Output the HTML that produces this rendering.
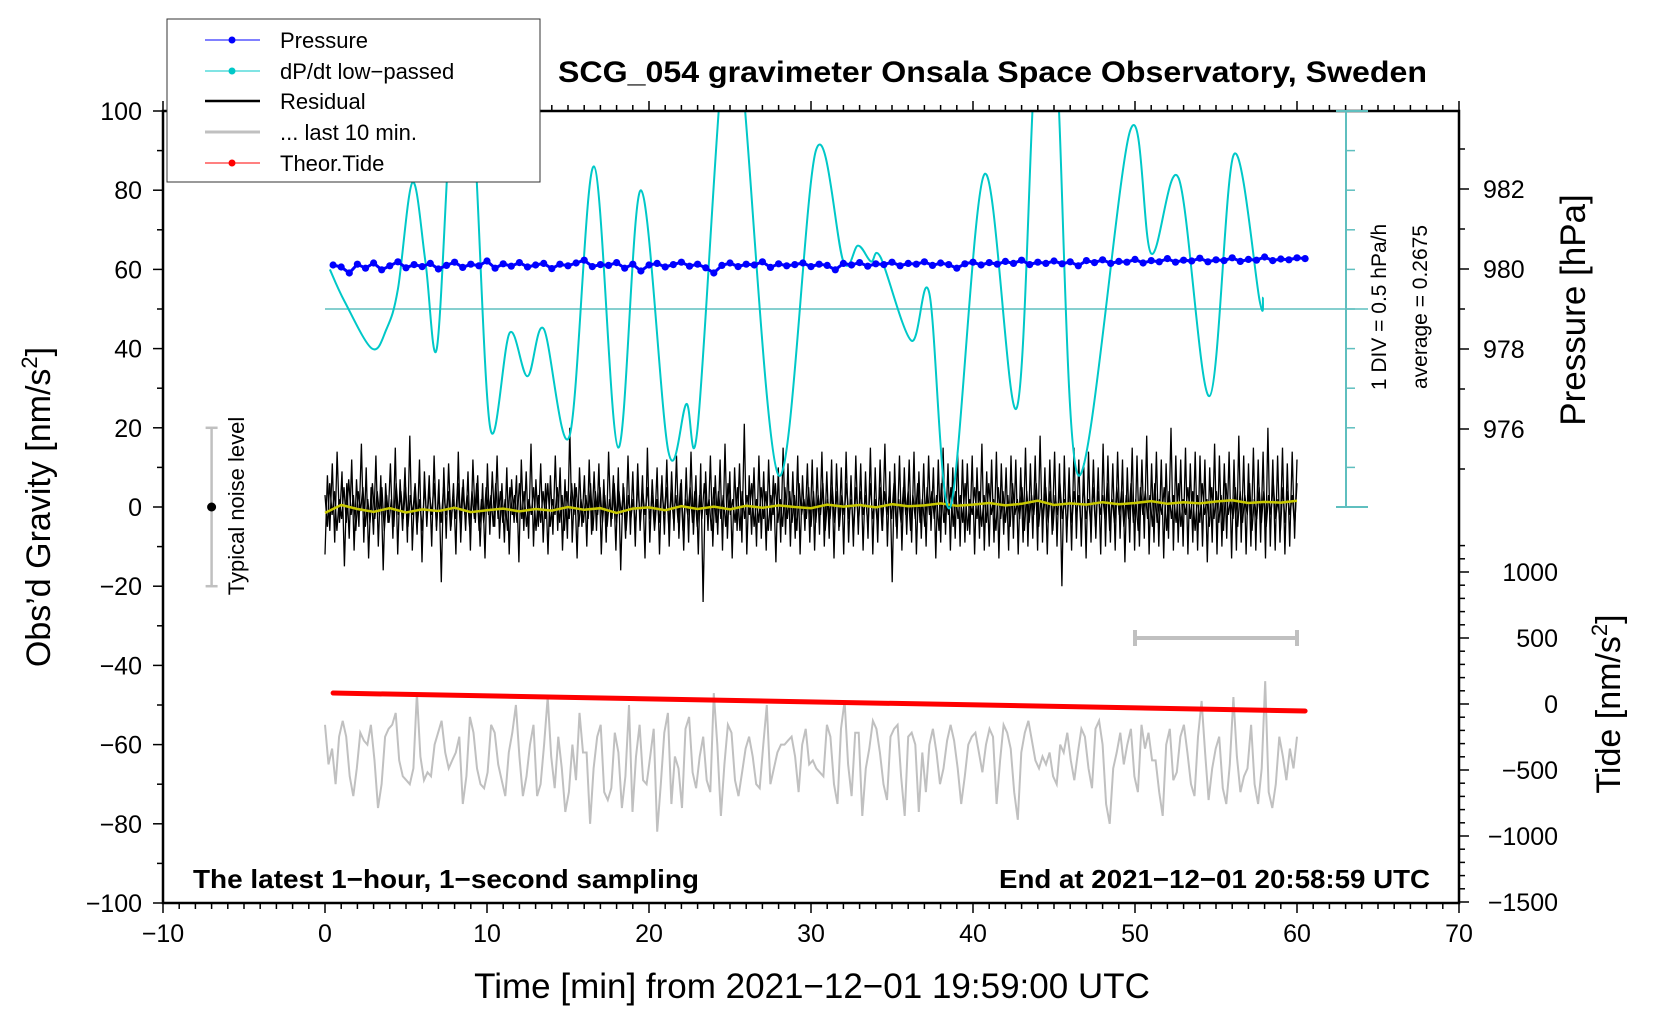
<!DOCTYPE html>
<html><head><meta charset="utf-8">
<style>
html,body{margin:0;padding:0;background:#fff;}
svg{display:block;font-family:"Liberation Sans",sans-serif;}
</style></head>
<body>
<svg id="chart" width="1660" height="1020" viewBox="0 0 1660 1020" xmlns="http://www.w3.org/2000/svg">
<defs><clipPath id="plotclip"><rect x="163" y="111" width="1296" height="792"/></clipPath></defs>
<rect x="0" y="0" width="1660" height="1020" fill="#fff"/>
<g id="ticks"></g>
<g id="marks" clip-path="url(#plotclip)"></g>
<rect x="163" y="111" width="1296" height="792" fill="none" stroke="#000" stroke-width="2.5"/>
<text x="558" y="82" font-size="30" font-weight="bold" textLength="869" lengthAdjust="spacingAndGlyphs">SCG_054 gravimeter Onsala Space Observatory, Sweden</text>
<text x="812" y="998" font-size="35" text-anchor="middle">Time [min] from 2021&#8722;12&#8722;01 19:59:00 UTC</text>
<text transform="translate(50,507) rotate(-90)" font-size="34" text-anchor="middle">Obs’d Gravity [nm/s<tspan font-size="22" dy="-13">2</tspan><tspan dy="13">]</tspan></text>
<text transform="translate(1585,310) rotate(-90)" font-size="35" text-anchor="middle">Pressure [hPa]</text>
<text transform="translate(1620,704) rotate(-90)" font-size="34" text-anchor="middle">Tide [nm/s<tspan font-size="22" dy="-13">2</tspan><tspan dy="13">]</tspan></text>
<text transform="translate(1386,307) rotate(-90)" font-size="21" text-anchor="middle">1 DIV = 0.5 hPa/h</text>
<text transform="translate(1427,307) rotate(-90)" font-size="21" text-anchor="middle">average = 0.2675</text>
<text transform="translate(244,506) rotate(-90)" font-size="22" text-anchor="middle">Typical noise level</text>
<text x="193" y="888" font-size="26" font-weight="bold" textLength="506" lengthAdjust="spacingAndGlyphs">The latest 1&#8722;hour, 1&#8722;second sampling</text>
<text x="999" y="888" font-size="26" font-weight="bold" textLength="431" lengthAdjust="spacingAndGlyphs">End at 2021&#8722;12&#8722;01 20:58:59 UTC</text>
<g>
<rect x="167" y="19" width="373" height="163" fill="#fff" stroke="#333" stroke-width="1"/>
<g><line x1="205" y1="40" x2="260" y2="40" stroke="#0000ff" stroke-width="1"/><circle cx="232" cy="40" r="3.5" fill="#0000ff"/><text x="280" y="48" font-size="22">Pressure</text></g>
<g><line x1="205" y1="71" x2="260" y2="71" stroke="#00c8c8" stroke-width="1"/><circle cx="232" cy="71" r="3.5" fill="#00c8c8"/><text x="280" y="79" font-size="22">dP/dt low&#8722;passed</text></g>
<g><line x1="205" y1="101" x2="260" y2="101" stroke="#000" stroke-width="2.5"/><text x="280" y="109" font-size="22">Residual</text></g>
<g><line x1="205" y1="132" x2="260" y2="132" stroke="#c0c0c0" stroke-width="3"/><text x="280" y="140" font-size="22">... last 10 min.</text></g>
<g><line x1="205" y1="163" x2="260" y2="163" stroke="#ff0000" stroke-width="1"/><circle cx="232" cy="163" r="3.5" fill="#ff0000"/><text x="280" y="171" font-size="22">Theor.Tide</text></g>
</g>
</svg>
<script>
// ---- data ----
const xTickLabels = [-10,0,10,20,30,40,50,60,70];
const gravityTickLabels = [100,80,60,40,20,0,-20,-40,-60,-80,-100];
const pressureTickLabels = [976,978,980,982];
const tideTickLabels = [1000,500,0,-500,-1000,-1500];
const dpdtTimes = [0.3,1.2,2.9,3.8,4.5,5.4,6.2,6.9,7.7,8.4,9.2,10.2,11.4,12.5,13.5,15.1,16.6,18.1,19.5,21.2,22.3,23.0,24.6,25.6,28,30.3,32,32.9,33.7,34.3,36.2,37.3,38.6,40.7,42.7,43.9,45.1,46.5,49.7,51,52.7,54.6,56.1,57.7,57.9];
const dpdtValues = [60,52,40,45,55,82,62,40,95,125,95,20,44,33,45,18,86,15,80,14,26,20,115,115,8,90,62,66,62,63,42,54,0,84,25,115,115,8,95,64,83,28,89,52,53];
const dpdtCenter = 50;
const pressureValues = [980.10,980.05,979.90,980.12,980.02,980.15,979.98,980.08,980.18,980.03,980.11,980.06,980.14,980.00,980.09,980.17,980.04,980.12,980.08,980.20,980.02,980.13,980.07,980.16,980.05,980.10,980.14,980.01,980.12,980.08,980.15,980.22,980.06,980.11,980.09,980.16,980.02,980.12,979.95,980.10,980.14,980.05,980.11,980.17,980.07,980.12,980.03,979.90,980.09,980.15,980.06,980.12,980.10,980.18,980.04,980.13,980.08,980.11,980.15,980.06,980.12,980.09,979.98,980.14,980.10,980.16,980.07,980.13,980.11,980.17,980.08,980.14,980.12,980.18,980.09,980.15,980.11,980.02,980.13,980.17,980.10,980.16,980.12,980.19,980.14,980.22,980.11,980.17,980.14,980.20,980.13,980.18,980.08,980.21,980.16,980.23,980.14,980.19,980.17,980.24,980.15,980.21,980.18,980.26,980.17,980.22,980.20,980.27,980.18,980.23,980.21,980.28,980.19,980.24,980.22,980.30,980.21,980.25,980.23,980.28,980.26];
const residualValues = [-12,8,-6,11,-9,14,-4,9,-15,6,-8,12,-11,7,-5,16,-9,10,-13,5,-7,13,-10,8,-16,6,-4,11,-8,15,-12,7,-6,10,-9,18,-11,5,-7,12,-14,9,-5,8,-10,13,-6,7,-19,10,-8,11,-5,6,-12,14,-9,7,-6,9,-11,12,-4,8,-10,6,-13,11,-7,9,-5,13,-8,6,-9,10,-12,7,-4,8,-14,12,-6,9,-8,16,-10,7,-5,11,-9,6,-12,8,-7,13,-6,10,-11,7,-8,20,-9,6,-13,10,-5,8,-10,12,-7,9,-6,11,-12,7,-9,14,-5,8,-11,10,-16,6,-8,13,-7,9,-10,11,-6,8,-13,15,-9,7,-5,10,-12,8,-7,12,-10,9,-6,13,-8,7,-11,10,-9,14,-7,8,-12,11,-24,9,-6,13,-10,8,-7,12,-11,16,-8,9,-13,10,-6,11,-9,21,-12,8,-7,10,-10,13,-8,9,-11,12,-6,8,-14,10,-9,15,-7,11,-10,9,-8,13,-12,8,-6,11,-9,12,-11,10,-7,14,-10,9,-8,12,-13,11,-6,10,-12,14,-9,8,-10,13,-7,11,-11,9,-8,15,-12,10,-9,12,-6,16,-10,9,-19,11,-8,13,-11,10,-7,12,-9,14,-12,9,-8,11,-10,13,-6,10,-13,12,-9,15,-7,11,-11,10,-8,14,-10,12,-9,11,-7,13,-12,10,-8,16,-11,9,-10,12,-9,14,-13,11,-7,10,-11,13,-8,12,-12,10,-9,15,-10,11,-8,13,-11,18,-9,10,-12,12,-7,14,-10,11,-20,13,-9,10,-11,15,-8,12,-10,11,-13,14,-9,12,-8,10,-12,16,-10,13,-9,11,-11,14,-8,12,-14,10,-9,15,-11,13,-10,12,-8,18,-12,11,-9,14,-10,12,-13,11,-8,20,-11,13,-9,12,-10,15,-12,11,-9,14,-11,13,-10,12,-14,10,-9,16,-12,13,-10,11,-8,14,-13,12,-11,18,-9,13,-12,11,-10,15,-11,12,-9,14,-13,20,-10,12,-11,13,-9,15,-12,11,-10,14,-8,12];
const residualFineValues = [3,-5,6,-2,4,-6,2,-3,5,-4,7,-2,3,-6,4,-1,5,-5,2,-4,6,-3,4,-2,5,-6,3,-4,2,-5,6,-2,4,-3,5,-5,3,-2,6,-4,2,-6,5,-3,4,-2,6,-5,3,-4,5,-2,4,-6,2,-3,6,-4,5,-2,3,-5,4,-3,6,-6,2,-4,5,-2,3,-5,6,-3,4,-4,2,-6,5,-2,3,-4,6,-3,4,-5,2,-2,5,-6,3,-4,4,-3,6,-5,2,-2,5,-4,3,-6,4,-3,6,-2,5,-5,2,-4,3,-3,6,-6,4,-2,5,-4,3,-5,2,-3,6,-4,4,-2,5,-6,3,-3,2,-5,6,-4,4,-2,5,-3,3,-6,2,-4,6,-2,5,-5,4,-3,3,-4,6,-6,2,-2,5,-4,4,-5,3,-3,6,-2,2,-6,5,-4,4,-3,3,-5,6,-2,2,-4,5,-6,4,-3,3,-2,6,-5,2,-4,5,-3,4,-6,3,-2,6,-4,2,-5,5,-3,4,-4,3,-6,6,-2,2,-3,5,-5,4,-4,3,-2,6,-6,2,-3,5,-4,4,-5,3,-2,6,-3,2,-6,5,-4,4,-2,3,-5,6,-3,2,-4,5,-6,4,-2,3,-3,6,-5,2,-4,5,-2,4,-6,3,-3,6,-4,2,-5,5,-2,4,-3,3,-6,6,-4,2,-2,5,-5,4,-3,3,-4,6,-6,2,-2,5,-3,4,-5,3,-4,6,-2,2,-6,5,-3,4,-4,3,-5,6,-2,2,-3,5,-6,4,-4,3,-2,6,-5,2,-3,5,-4,4,-6,3,-2,6,-3,2,-5,5,-4,4,-2,3,-6,6,-3,2,-4,5,-5,4,-2,3,-3,6,-6,2,-4,5,-2,4,-5,3,-3,6,-4,2,-6,5,-2,4,-3,3,-5,6,-4,2,-2,5,-6,4,-3,3,-4,6,-5,2,-2,5,-3,4,-6,3,-4,6,-2,2,-5,5,-3,4,-4,3,-6,6,-2,2,-3,5,-5,4,-4,3,-2,6,-6,2,-3,5,-4,4,-5,3,-2,6,-3,2,-6,5,-4,4,-2,3,-5,6];
const smoothValues = [-1.5,0.5,-0.5,-1.2,-0.3,-1.4,-0.6,-1.0,-0.2,-1.3,-0.8,-0.4,-1.1,-0.5,-0.9,0.0,-0.7,-0.3,-1.5,-0.4,-0.1,-0.8,0.2,-0.5,0.1,-0.6,0.3,-0.2,0.4,0.0,-0.3,0.6,0.1,0.5,-0.1,0.7,0.2,0.4,0.9,0.3,0.6,1.0,0.4,0.8,1.6,0.5,0.9,0.6,1.2,0.7,1.0,1.5,0.8,1.2,0.9,1.4,1.7,1.0,1.3,1.1,1.6];
const lastTenValues = [-55,-65,-61,-70,-58,-54,-58,-68,-73,-66,-57,-59,-60,-55,-64,-76,-70,-58,-56,-55,-52,-64,-68,-69,-70,-66,-47,-63,-69,-67,-68,-60,-57,-54,-62,-66,-64,-62,-58,-75,-68,-53,-57,-66,-70,-71,-67,-55,-57,-65,-69,-73,-62,-57,-50,-63,-73,-68,-60,-55,-73,-70,-60,-48,-63,-71,-58,-66,-77,-72,-60,-69,-52,-62,-62,-80,-66,-58,-55,-72,-74,-71,-57,-62,-76,-68,-50,-77,-63,-55,-69,-70,-63,-56,-82,-70,-57,-52,-75,-63,-66,-76,-56,-53,-67,-71,-63,-58,-69,-72,-47,-60,-78,-65,-55,-57,-69,-73,-67,-61,-58,-63,-70,-71,-60,-50,-70,-66,-62,-60,-60,-59,-58,-63,-72,-60,-56,-65,-64,-66,-67,-68,-55,-58,-70,-75,-56,-49,-65,-73,-57,-57,-78,-66,-61,-54,-56,-62,-70,-74,-58,-56,-55,-68,-78,-58,-57,-60,-77,-62,-72,-60,-56,-62,-70,-66,-59,-55,-59,-66,-75,-68,-60,-58,-57,-62,-67,-60,-56,-58,-75,-64,-55,-57,-61,-72,-79,-62,-57,-54,-59,-64,-66,-63,-65,-62,-68,-70,-60,-62,-57,-64,-69,-62,-56,-58,-66,-71,-56,-54,-60,-75,-80,-66,-62,-57,-65,-60,-56,-68,-72,-55,-61,-57,-64,-64,-72,-78,-60,-56,-69,-67,-58,-55,-62,-70,-73,-58,-49,-62,-74,-66,-61,-58,-71,-75,-65,-48,-63,-72,-68,-66,-55,-70,-75,-66,-44,-72,-76,-70,-58,-63,-69,-61,-66,-58];
const tideStart = 83, tideEnd = -53;

// ---- scales ----
const xs = t => 163 + (t + 10) * 16.2;
const yg = v => 507 - v * 3.96;
const yp = p => 269 - (p - 980) * 40;
const yt = v => 704 - v * 0.132;
const NS = 'http://www.w3.org/2000/svg';
const ticksG = document.getElementById('ticks');
const marksG = document.getElementById('marks');
const svg = document.getElementById('chart');

function mk(tag, parent, attrs){ const e = document.createElementNS(NS, tag); for (const k in attrs) e.setAttribute(k, attrs[k]); parent.appendChild(e); return e; }
function line(parent,x1,y1,x2,y2,w){ return mk('line',parent,{x1:x1,y1:y1,x2:x2,y2:y2,stroke:'#000','stroke-width':w||1.5}); }
function txt(parent,x,y,s,anchor,size){ const e = mk('text',parent,{x:x,y:y,'font-size':size||25,'text-anchor':anchor}); e.textContent = s; return e; }
const fmt = v => (v < 0 ? '\u2212' + Math.abs(v) : String(v));

for (let t = -10; t <= 70; t++) {
  const major = t % 10 === 0, L = major ? 10 : 6;
  line(ticksG, xs(t), 903, xs(t), 903 + L);
  line(ticksG, xs(t), 111, xs(t), 111 - L);
}
xTickLabels.forEach(v => {
  const e = txt(ticksG, xs(v), 942, fmt(v), 'middle');
  
  
});
for (let v = -100; v <= 100; v += 10) { line(ticksG, 163, yg(v), 163 - (v % 20 === 0 ? 10 : 6), yg(v)); }
gravityTickLabels.forEach(v => {
  const e = txt(ticksG, 142, yg(v) + 9, fmt(v), 'end');
  
  
});
for (let p = 975; p <= 983; p++) { line(ticksG, 1459, yp(p), 1459 + (p % 2 === 0 ? 10 : 6), yp(p)); }
pressureTickLabels.forEach(p => {
  const e = txt(ticksG, 1483, yp(p) + 9, String(p), 'start');
  
  
});
for (let v = -1500; v <= 1200; v += 100) { line(ticksG, 1459, yt(v), 1459 + (v % 500 === 0 ? 10 : 6), yt(v)); }
tideTickLabels.forEach(v => {
  const e = txt(ticksG, 1558, yt(v) + 9, fmt(v), 'end');
  
  
});

const cyanAxis = mk('g', svg, {});


mk('line', cyanAxis, {x1:1346,y1:111,x2:1346,y2:507,stroke:'#5fbfbf','stroke-width':2});
mk('line', cyanAxis, {x1:1336,y1:507,x2:1368,y2:507,stroke:'#5fbfbf','stroke-width':2});
mk('line', cyanAxis, {x1:1336,y1:111,x2:1368,y2:111,stroke:'#5fbfbf','stroke-width':2});
for (let v = 10; v < 100; v += 10) mk('line', cyanAxis, {x1:1346,y1:yg(v),x2:1355,y2:yg(v),stroke:'#5fbfbf','stroke-width':1.5});
const cl = mk('line', marksG, {x1:xs(0),y1:yg(dpdtCenter),x2:1368,y2:yg(dpdtCenter),stroke:'#5fbfbf','stroke-width':1.5});



function smoothPath(pts){
  let d = 'M' + pts[0][0] + ',' + pts[0][1];
  for (let i = 0; i < pts.length - 1; i++) {
    const p0 = pts[Math.max(i-1,0)], p1 = pts[i], p2 = pts[i+1], p3 = pts[Math.min(i+2,pts.length-1)];
    const c1x = p1[0] + (p2[0]-p0[0])/6, c1y = p1[1] + (p2[1]-p0[1])/6;
    const c2x = p2[0] - (p3[0]-p1[0])/6, c2y = p2[1] - (p3[1]-p1[1])/6;
    d += ' C' + c1x.toFixed(1) + ',' + c1y.toFixed(1) + ' ' + c2x.toFixed(1) + ',' + c2y.toFixed(1) + ' ' + p2[0].toFixed(1) + ',' + p2[1].toFixed(1);
  }
  return d;
}
function polyPts(vals, t0, t1, yf){
  const n = vals.length;
  return vals.map((v,i) => (xs(t0 + (t1 - t0) * i / (n - 1))).toFixed(1) + ',' + yf(v).toFixed(1)).join(' ');
}

const gray = mk('polyline', marksG, {points: polyPts(lastTenValues, 0, 60, yg), fill:'none', stroke:'#c0c0c0', 'stroke-width':2});



const res = mk('polyline', marksG, {points: polyPts(residualValues, 0, 60, yg), fill:'none', stroke:'#000', 'stroke-width':1.3});


const resF = mk('polyline', marksG, {points: polyPts(residualFineValues, 0, 60, yg), fill:'none', stroke:'#000', 'stroke-width':1.3});



const yel = mk('polyline', marksG, {points: polyPts(smoothValues, 0, 60, yg), fill:'none', stroke:'#c8c800', 'stroke-width':2.5});



const cyPts = dpdtTimes.map((t,i) => [xs(t), yg(dpdtValues[i])]);
const cy = mk('path', marksG, {d: smoothPath(cyPts), fill:'none', stroke:'#00c8c8', 'stroke-width':2});



const pg = mk('g', marksG, {});


mk('polyline', pg, {points: polyPts(pressureValues, 0.5, 60.5, yp), fill:'none', stroke:'#0000ff', 'stroke-width':3});
pressureValues.forEach((p,i) => {
  const c = mk('circle', pg, {cx: xs(0.5 + 60 * i / (pressureValues.length - 1)), cy: yp(p), r: 3.6, fill:'#0000ff'});
  
  
});

const td = mk('line', marksG, {x1: xs(0.5), y1: yt(tideStart), x2: xs(60.5), y2: yt(tideEnd), stroke:'#ff0000', 'stroke-width':5, 'stroke-linecap':'round'});



const sb = mk('g', marksG, {stroke:'#c0c0c0','stroke-width':4});


mk('line', sb, {x1:xs(50),y1:638,x2:xs(60),y2:638});
mk('line', sb, {x1:xs(50),y1:630,x2:xs(50),y2:646});
mk('line', sb, {x1:xs(60),y1:630,x2:xs(60),y2:646});

const nb = mk('g', marksG, {});


mk('line', nb, {x1:xs(-7),y1:yg(20),x2:xs(-7),y2:yg(-20),stroke:'#c0c0c0','stroke-width':2.5});
mk('line', nb, {x1:xs(-7)-6,y1:yg(20),x2:xs(-7)+6,y2:yg(20),stroke:'#c0c0c0','stroke-width':2.5});
mk('line', nb, {x1:xs(-7)-6,y1:yg(-20),x2:xs(-7)+6,y2:yg(-20),stroke:'#c0c0c0','stroke-width':2.5});
mk('circle', nb, {cx:xs(-7),cy:yg(0),r:4.5,fill:'#000'});
</script>
</body></html>
